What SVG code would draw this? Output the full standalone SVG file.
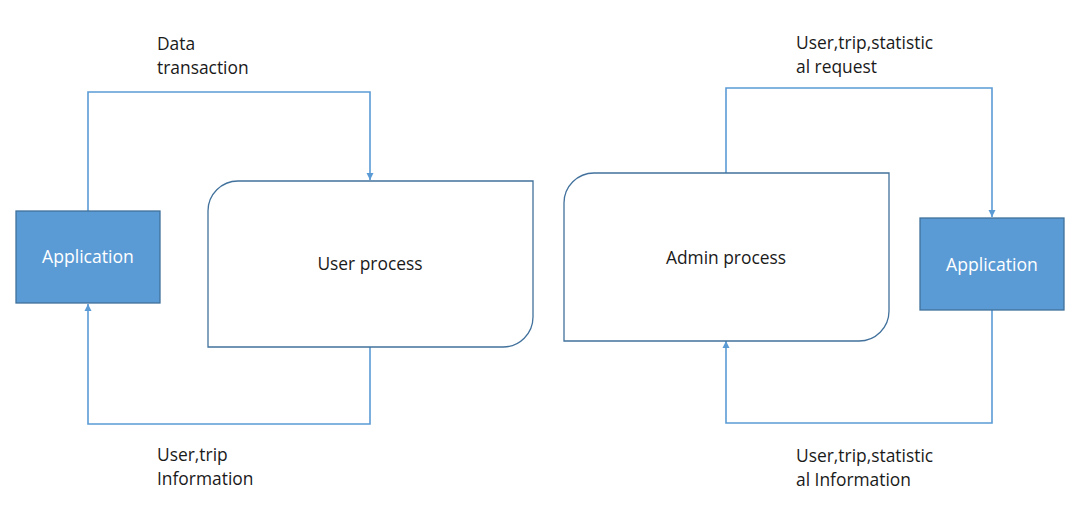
<svg xmlns="http://www.w3.org/2000/svg" width="1076" height="526" viewBox="0 0 1076 526">
<style>
.app{fill:#5B9BD5;stroke:#41719C;stroke-width:1.3}
.proc{fill:#FFFFFF;stroke:#41719C;stroke-width:1.3}
.conn{fill:none;stroke:#5B9BD5;stroke-width:1.6}
.lbl{font-family:"Open Sans","Liberation Sans",sans-serif;font-size:17.4px;fill:#1A1A1A}
.wt{font-family:"Open Sans","Liberation Sans",sans-serif;font-size:17.6px;fill:#FFFFFF;text-anchor:middle}
.pt{font-family:"Open Sans","Liberation Sans",sans-serif;font-size:17.4px;fill:#1A1A1A;text-anchor:middle}
</style>
<defs>
<marker id="arr" markerWidth="8" markerHeight="8" refX="7" refY="4" orient="auto" markerUnits="userSpaceOnUse">
<path d="M0,0.5 L7,4 L0,7.5 Z" fill="#5B9BD5"/>
</marker>
</defs>
<rect width="1076" height="526" fill="#FFFFFF"/>
<g id="connectors">
<path class="conn" d="M88,211 V92 H370 V180" marker-end="url(#arr)"/>
<path class="conn" d="M370,347 V424 H88 V304" marker-end="url(#arr)"/>
<path class="conn" d="M726,173 V88 H992 V217" marker-end="url(#arr)"/>
<path class="conn" d="M992,310 V423 H726 V341" marker-end="url(#arr)"/>
</g>
<g id="app-left">
<rect class="app" x="16" y="211" width="144" height="92"/>
<text class="wt" x="88" y="263">Application</text>
</g>
<g id="user-process">
<path class="proc" d="M238,181 H533 V317 A30,30 0 0 1 503,347 H208 V211 A30,30 0 0 1 238,181 Z"/>
<text class="pt" x="370" y="270">User process</text>
</g>
<g id="admin-process">
<path class="proc" d="M594,173 H889 V311 A30,30 0 0 1 859,341 H564 V203 A30,30 0 0 1 594,173 Z"/>
<text class="pt" x="726" y="264">Admin process</text>
</g>
<g id="app-right">
<rect class="app" x="920" y="218" width="144" height="92"/>
<text class="wt" x="992" y="271">Application</text>
</g>
<g id="labels">
<text class="lbl" x="157" y="50">Data</text>
<text class="lbl" x="157" y="74">transaction</text>
<text class="lbl" x="796" y="49">User,trip,statistic</text>
<text class="lbl" x="796" y="73">al request</text>
<text class="lbl" x="157" y="461">User,trip</text>
<text class="lbl" x="157" y="485">Information</text>
<text class="lbl" x="796" y="462">User,trip,statistic</text>
<text class="lbl" x="796" y="486">al Information</text>
</g>
</svg>
